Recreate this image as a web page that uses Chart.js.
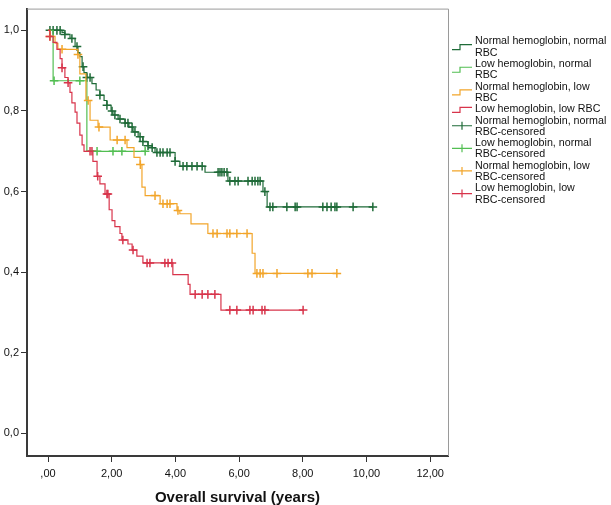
<!DOCTYPE html>
<html lang="en">
<head>
<meta charset="utf-8">
<title>Overall survival</title>
<script src="https://cdn.jsdelivr.net/npm/chart.js@4.4.0/dist/chart.umd.min.js"></script>
<style>
  html, body { margin:0; padding:0; background:#fff; }
  #wrap { width:611px; height:505px; position:relative; }
</style>
</head>
<body>
<div id="wrap"><canvas id="km"></canvas></div>
<script>
// Kaplan-Meier steps (time in years, cumulative survival)
// Normal hemoglobin, normal RBC
var nnTime = [0, 0.44, 0.53, 0.69, 0.85, 0.94, 1.00, 1.07, 1.13, 1.22, 1.38, 1.51, 1.63, 1.76, 1.85, 1.98, 2.04, 2.20, 2.42, 2.54, 2.67, 2.83, 2.98, 3.14, 3.27, 3.36, 3.99, 4.14, 4.93, 5.65, 6.75, 6.88, 10.2];
var nnSurv = [1, 0.995, 0.99, 0.98, 0.96, 0.945, 0.935, 0.91, 0.895, 0.883, 0.868, 0.852, 0.839, 0.826, 0.814, 0.80, 0.79, 0.78, 0.77, 0.76, 0.748, 0.736, 0.724, 0.714, 0.709, 0.697, 0.675, 0.663, 0.648, 0.626, 0.60, 0.562, 0.562];
var nnCens = [0.06, 0.16, 0.28, 0.38, 0.53, 0.75, 0.91, 1.10, 1.22, 1.32, 1.63, 1.85, 2.01, 2.10, 2.26, 2.42, 2.51, 2.64, 2.73, 2.89, 2.98, 3.14, 3.27, 3.42, 3.52, 3.61, 3.74, 3.83, 3.99, 4.24, 4.36, 4.52, 4.68, 4.84, 5.34, 5.40, 5.46, 5.53, 5.62, 5.71, 5.87, 5.97, 6.28, 6.41, 6.50, 6.59, 6.66, 6.81, 6.97, 7.06, 7.50, 7.76, 7.82, 8.63, 8.76, 8.89, 9.01, 9.07, 9.58, 10.2];

// Low hemoglobin, normal RBC
var lnTime = [0, 0.16, 1.22, 3.05];
var lnSurv = [1, 0.875, 0.70, 0.70];
var lnCens = [0.19, 1.00, 1.54, 2.04, 2.32, 3.05];

// Normal hemoglobin, low RBC
var nlTime = [0, 0.06, 0.22, 0.31, 0.94, 1.00, 1.19, 1.32, 1.57, 1.95, 2.48, 2.70, 2.89, 2.95, 3.05, 3.52, 4.05, 4.14, 4.49, 5.02, 6.41, 6.50, 9.07];
var nlSurv = [1, 0.985, 0.968, 0.953, 0.94, 0.892, 0.826, 0.777, 0.76, 0.728, 0.709, 0.685, 0.667, 0.611, 0.59, 0.57, 0.553, 0.545, 0.52, 0.496, 0.447, 0.397, 0.397];
var nlCens = [0.06, 0.44, 0.94, 1.26, 1.60, 2.17, 2.42, 2.90, 3.36, 3.61, 3.74, 3.83, 4.08, 5.18, 5.31, 5.62, 5.71, 5.93, 6.25, 6.56, 6.66, 6.75, 7.19, 8.16, 8.29, 9.07];

// Low hemoglobin, low RBC
var llTime = [0, 0.06, 0.16, 0.28, 0.38, 0.44, 0.53, 0.63, 0.69, 0.75, 0.85, 0.91, 1.00, 1.07, 1.13, 1.41, 1.54, 1.63, 1.79, 1.92, 2.01, 2.10, 2.26, 2.32, 2.51, 2.64, 2.79, 2.98, 3.92, 4.40, 4.46, 5.43, 8.01];
var llSurv = [1, 0.985, 0.97, 0.953, 0.93, 0.907, 0.883, 0.87, 0.846, 0.82, 0.797, 0.77, 0.74, 0.716, 0.70, 0.675, 0.638, 0.619, 0.594, 0.555, 0.528, 0.513, 0.496, 0.48, 0.47, 0.455, 0.44, 0.423, 0.394, 0.37, 0.345, 0.306, 0.306];
var llCens = [0.06, 0.44, 0.63, 1.32, 1.38, 1.56, 1.85, 1.88, 2.35, 2.67, 3.11, 3.20, 3.67, 3.77, 3.89, 4.62, 4.84, 5.02, 5.24, 5.71, 5.93, 6.34, 6.44, 6.72, 6.81, 8.01];

var xTicks = [0, 2, 4, 6, 8, 10, 12];
var yTicks = [0, 0.2, 0.4, 0.6, 0.8, 1.0];

var groupNames = ['Normal hemoglobin, normal RBC', 'Low hemoglobin, normal RBC', 'Normal hemoglobin, low RBC', 'Low hemoglobin, low RBC'];
var legendLines = [
  ['Normal hemoglobin, normal', 'RBC'],
  ['Low hemoglobin, normal', 'RBC'],
  ['Normal hemoglobin, low', 'RBC'],
  ['Low hemoglobin, low RBC'],
  ['Normal hemoglobin, normal', 'RBC-censored'],
  ['Low hemoglobin, normal', 'RBC-censored'],
  ['Normal hemoglobin, low', 'RBC-censored'],
  ['Low hemoglobin, low', 'RBC-censored']
];

var colors = ['#1f6b38', '#52be52', '#f2a52a', '#d8344b'];

function steps(t, s) {
  return t.map(function (v, i) { return { x: v, y: s[i] }; });
}
// survival at time tc, from the step table
function survAt(t, s, tc) {
  var val = s[0];
  for (var i = 0; i < t.length; i++) { if (t[i] <= tc + 1e-9) val = s[i]; }
  return val;
}
function cens(t, s, c) {
  return c.map(function (v) { return { x: v, y: survAt(t, s, v) }; });
}

var tables = [[nnTime, nnSurv, nnCens], [lnTime, lnSurv, lnCens], [nlTime, nlSurv, nlCens], [llTime, llSurv, llCens]];

var datasets = [];
// lines first (red at the back, dark green on top)
[3, 2, 1, 0].forEach(function (g) {
  datasets.push({
    label: groupNames[g],
    data: steps(tables[g][0], tables[g][1]),
    showLine: true,
    stepped: 'before',
    borderColor: colors[g],
    borderWidth: 1.2,
    pointRadius: 0,
    fill: false
  });
});
[3, 2, 1, 0].forEach(function (g) {
  datasets.push({
    label: groupNames[g] + '-censored',
    data: cens(tables[g][0], tables[g][1], tables[g][2]),
    showLine: false,
    pointStyle: 'cross',
    pointRadius: 4.3,
    borderColor: colors[g],
    borderWidth: 1.5,
    backgroundColor: colors[g]
  });
});

var fontFam = '"Liberation Sans", Arial, sans-serif';

var framePlugin = {
  id: 'frame',
  beforeDatasetsDraw: function (chart) {
    var a = chart.chartArea, ctx = chart.ctx;
    ctx.save();
    ctx.strokeStyle = '#9a9a9a';
    ctx.lineWidth = 1;
    ctx.beginPath();
    ctx.moveTo(a.left, a.top + 0.5);
    ctx.lineTo(a.right + 0.5, a.top + 0.5);
    ctx.lineTo(a.right + 0.5, a.bottom);
    ctx.stroke();
    ctx.restore();
  }
};

var legendPlugin = {
  id: 'kmLegend',
  afterDraw: function (chart) {
    var ctx = chart.ctx;
    var lh = 11.3, y = 41.5, x0 = 452, x1 = 472, tx = 475;
    ctx.save();
    ctx.font = '10.7px ' + fontFam;
    ctx.textBaseline = 'middle';
    ctx.fillStyle = '#111';
    legendLines.forEach(function (lines, i) {
      var col = colors[i % 4];
      var iy = lines.length > 1 ? y + lh / 2 - 0.5 : y;
      ctx.strokeStyle = col;
      ctx.lineWidth = 1.2;
      ctx.beginPath();
      if (i < 4) {
        ctx.moveTo(x0, iy + 3);
        ctx.lineTo(460, iy + 3);
        ctx.lineTo(460, iy - 2);
        ctx.lineTo(x1, iy - 2);
      } else {
        ctx.moveTo(x0, iy);
        ctx.lineTo(x1, iy);
        ctx.moveTo(462, iy - 4);
        ctx.lineTo(462, iy + 4);
      }
      ctx.stroke();
      lines.forEach(function (txt, k) {
        ctx.fillText(txt, tx, y + k * lh);
      });
      y += lines.length * lh;
    });
    ctx.restore();
  }
};

new Chart(document.getElementById('km'), {
  type: 'scatter',
  data: { datasets: datasets },
  options: {
    responsive: true,
    maintainAspectRatio: false,
    animation: false,
    layout: { padding: { left: 0, right: 163, top: 2, bottom: 0 } },
    plugins: { legend: { display: false }, tooltip: { enabled: false } },
    scales: {
      x: {
        type: 'linear',
        min: -0.66,
        max: 12.56,
        afterBuildTicks: function (s) { s.ticks = xTicks.map(function (v) { return { value: v }; }); },
        afterFit: function (s) { s.height = 49; },
        grid: { drawOnChartArea: false, drawTicks: true, tickLength: 6, color: '#333', tickWidth: 1 },
        border: { display: true, color: '#3a3a3a', width: 2 },
        ticks: {
          color: '#111',
          padding: 5,
          maxRotation: 0,
          font: { family: fontFam, size: 11 },
          callback: function (v) { return v === 0 ? ',00' : v.toFixed(2).replace('.', ','); }
        },
        title: {
          display: true,
          text: 'Overall survival (years)',
          color: '#111',
          padding: { top: 0, bottom: 0 },
          font: { family: fontFam, size: 15, weight: 'bold', lineHeight: 1.0 }
        }
      },
      y: {
        type: 'linear',
        min: -0.056,
        max: 1.054,
        afterBuildTicks: function (s) { s.ticks = yTicks.map(function (v) { return { value: v }; }); },
        afterFit: function (s) { s.width = 27; },
        grid: { drawOnChartArea: false, drawTicks: true, tickLength: 6, color: '#333', tickWidth: 1 },
        border: { display: true, color: '#3a3a3a', width: 2 },
        ticks: {
          color: '#111',
          padding: 2,
          font: { family: fontFam, size: 11 },
          callback: function (v) { return v.toFixed(1).replace('.', ','); }
        }
      }
    }
  },
  plugins: [framePlugin, legendPlugin]
});
</script>
</body>
</html>
